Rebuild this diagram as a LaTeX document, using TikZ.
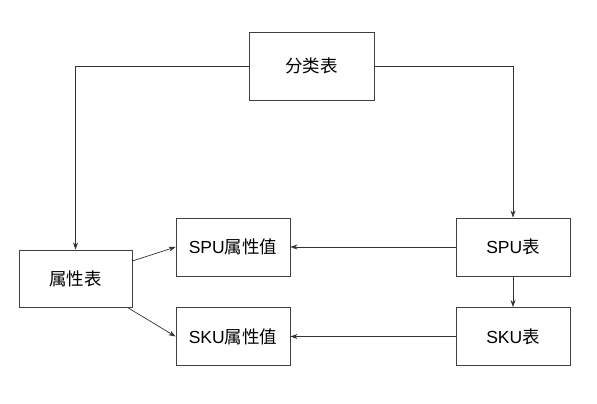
\documentclass[tikz,border=0pt]{standalone}
\usepackage{fontspec}
\setmainfont{Liberation Sans}
\newfontfamily\cjkfont{Noto Sans CJK SC}
\newcommand{\zh}[1]{{\cjkfont #1}}
\usetikzlibrary{arrows.meta}
\tikzset{%
  tablebox/.style = {shape=rectangle, draw=black!75, line width=0.9pt,%
                     align=center, fill=white, inner sep=0pt,%
                     minimum width=114pt, minimum height=58pt,%
                     font=\fontsize{17.5}{20}\selectfont},%
  link/.style     = {draw=black!80, line width=0.7pt,%
                     -{Stealth[length=7pt,width=5pt]}}%
}
\begin{document}
\begin{tikzpicture}[x=1pt,y=-1pt]
	\useasboundingbox (0,0) rectangle (597,404);
	\node [tablebox, minimum width=125pt, minimum height=68pt] (cat) at (311.5,66) {\zh{分类表}};
	\node [tablebox, minimum width=113pt, minimum height=57pt] (attr) at (75.5,278.5) {\zh{属性表}};
	\node [tablebox] (spuval) at (233,247) {SPU\zh{属性值}};
	\node [tablebox] (skuval) at (233,336.5) {SKU\zh{属性值}};
	\node [tablebox] (spu) at (513,247) {SPU\zh{表}};
	\node [tablebox] (sku) at (513,336.5) {SKU\zh{表}};
	% from the category table
	\draw [link] (cat.west) -| (attr.north);
	\draw [link] (cat.east) -| (spu.north);
	% from the attribute table
	\draw [link] ([yshift=17.5pt]attr.east) -- (spuval.west);
	\draw [link] ([xshift=-5pt]attr.south east) -- (skuval.west);
	% from spu and sku
	\draw [link] (spu.west) -- (spuval.east);
	\draw [link] (sku.west) -- (skuval.east);
	\draw [link] (spu.south) -- (sku.north);
\end{tikzpicture}
\end{document}
